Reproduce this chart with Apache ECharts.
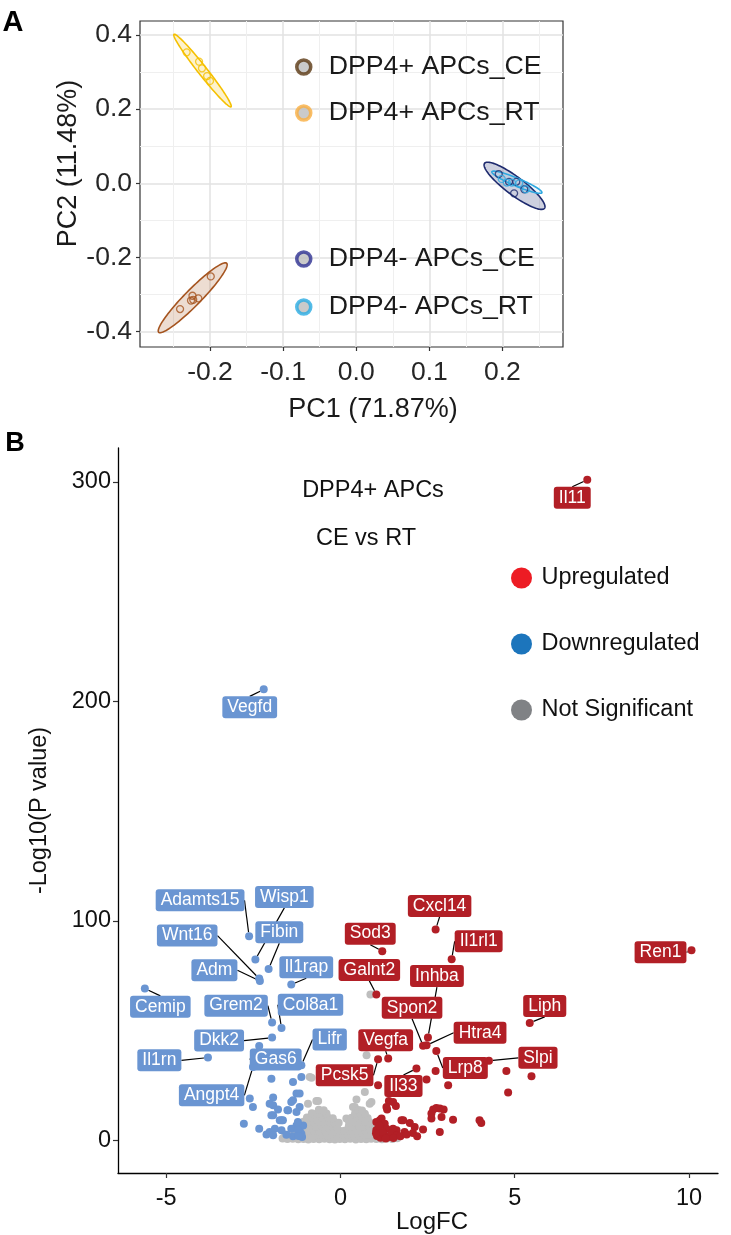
<!DOCTYPE html>
<html>
<head>
<meta charset="utf-8">
<script src="https://cdn.jsdelivr.net/npm/echarts@6/dist/echarts.min.js"></script>
<style>
  html, body { margin: 0; padding: 0; background: #fff; }
  #main { width: 731px; height: 1235px; }
</style>
</head>
<body>
<div id="main"></div>
<script>
// ---------- Panel A : PCA ----------
const pcaGroups = ['DPP4+ APCs_CE', 'DPP4+ APCs_RT', 'DPP4- APCs_CE', 'DPP4- APCs_RT'];
const plusCE_PC1 = [-0.199, -0.224, -0.226, -0.216, -0.241, -0.223];
const plusCE_PC2 = [-0.251, -0.303, -0.316, -0.310, -0.339, -0.314];
const plusRT_PC1 = [-0.232, -0.215, -0.211, -0.204, -0.200];
const plusRT_PC2 = [0.353, 0.328, 0.310, 0.289, 0.276];
const minusCE_PC1 = [0.195, 0.219, 0.216, 0.230, 0.209];
const minusCE_PC2 = [0.025, 0.004, -0.027, -0.016, 0.004];
const minusRT_PC1 = [0.199, 0.206, 0.213, 0.223, 0.232];
const minusRT_PC2 = [0.012, 0.002, 0.002, 0.000, -0.016];

// ellipse: centre, major half-axis vector, minor half-axis vector (data units)
const ellCenterPC1 = [-0.2237, -0.2103, 0.2166, 0.2198];
const ellCenterPC2 = [-0.3086, 0.3040, -0.0067, 0.0030];
const ellMajorPC1 = [0.0465, -0.0390, 0.0410, 0.0342];
const ellMajorPC2 = [0.0930, 0.0976, -0.0606, -0.0283];
const ellMinorPC1 = [0.0078, 0.0048, -0.0074, -0.0021];
const ellMinorPC2 = [-0.0151, 0.0075, -0.0194, -0.0099];

const pcaXTicks = [-0.2, -0.1, 0.0, 0.1, 0.2];
const pcaYTicks = [-0.4, -0.2, 0.0, 0.2, 0.4];
const pcaXMinor = [-0.25, -0.15, -0.05, 0.05, 0.15, 0.25];
const pcaYMinor = [-0.3, -0.1, 0.1, 0.3];

// ---------- Panel B : volcano ----------
const upGenes = ['Il11', 'Ren1', 'Cxcl14', 'Il1rl1', 'Sod3', 'Galnt2', 'Inhba', 'Spon2',
                 'Htra4', 'Liph', 'Lrp8', 'Slpi', 'Il33', 'Vegfa', 'Pcsk5'];
const upGeneFC = [7.08, 10.07, 2.73, 3.19, 1.20, 1.03, 2.51, 2.37, 2.47, 5.43, 2.75, 4.26, 2.18, 1.37, 1.08];
const upGeneP = [301, 86.6, 96.1, 82.5, 86.2, 66.5, 46.8, 43.1, 43.3, 53.5, 40.7, 36.2, 32.7, 37.3, 36.9];

const downGenes = ['Vegfd', 'Adamts15', 'Wisp1', 'Fibin', 'Wnt16', 'Adm', 'Il1rap', 'Cemip',
                   'Grem2', 'Col8a1', 'Dkk2', 'Gas6', 'Lifr', 'Il1rn', 'Angpt4'];
const downGeneFC = [-2.20, -2.62, -2.44, -2.06, -2.33, -2.31, -1.41, -5.61, -1.96, -1.69, -1.96, -2.33, -1.12, -3.80, -2.51];
const downGeneP = [205.5, 93.0, 82.4, 78.1, 73.7, 72.6, 71.0, 69.2, 53.7, 51.2, 46.8, 43.0, 34.2, 37.7, 33.4];

const upFC = [4.76, 5.48, 4.81, 2.73, 2.47, 3.09, 1.08, 1.39, 1.59, 1.34, 2.66, 2.75, 2.85, 2.96, 2.90,
              2.61, 3.23, 3.99, 4.04, 1.75, 1.99, 2.13, 2.37, 2.85, 2.08, 1.84, 1.61, 1.13, 1.51, 1.32,
              1.18, 1.03, 1.27, 1.08, 1.32, 1.51, 1.80, 2.61, 1.03, 1.05, 1.15, 1.25, 1.38, 1.46, 1.20,
              1.62, 1.02, 1.30, 1.52, 1.72, 1.90, 2.20, 1.12];
const upP = [31.6, 29.2, 21.8, 31.6, 27.7, 25.1, 25.1, 17.9, 15.6, 14.0, 14.0, 14.7, 14.5, 14.0, 10.6,
             9.9, 9.4, 9.1, 7.9, 9.1, 7.9, 6.1, 4.9, 3.8, 3.3, 3.8, 4.6, 9.1, 17.5, 15.2,
             9.9, 8.3, 7.6, 5.3, 5.3, 5.3, 9.1, 12.2, 4.6, 2.0, 1.2, 2.6, 1.5, 3.0, 3.8,
             2.2, 3.2, 0.8, 1.0, 1.9, 2.6, 1.8, 6.6];

const downFC = [-1.98, -1.36, -1.12, -1.26, -1.36, -2.60, -2.51, -1.93, -1.93, -1.79, -1.93, -1.69, -1.52,
                -1.41, -1.17, -1.26, -2.77, -2.33, -2.12, -1.88, -1.69, -1.26, -1.17, -1.07, -1.41, -1.36,
                -2.03, -1.93, -1.65, -1.50, -1.17, -1.22, -1.12, -1.22, -2.03, -1.98, -1.74, -1.10, -1.20, -1.55];
const downP = [28.1, 26.6, 28.9, 21.3, 18.2, 19.0, 15.2, 19.5, 16.0, 14.0, 11.4, 9.1, 13.7,
               17.5, 15.2, 12.9, 7.6, 5.3, 2.7, 5.3, 4.6, 6.8, 4.6, 6.8, 5.3, 1.8,
               3.8, 2.3, 9.1, 13.7, 21.3, 8.3, 3.0, 4.6, 16.7, 11.4, 9.1, 1.5, 2.0, 2.5];

const nsFC = [0.86, 0.75, 0.70, 0.46, 0.17, -0.88, -0.69, 0.89, 0.36, -0.93, -0.64, 0.84, 0.41, 0.70, -0.83,
  -1.66, -1.52, -1.37, -1.21, -1.06, -0.92, -0.77, -0.61, -0.46, -0.31, -0.16, -0.02, 0.13, 0.28, 0.44, 0.59, 0.74, 0.88, 1.03, 1.19, 1.34, 1.49, 1.63,
  -1.58, -1.43, -1.28, -1.13, -0.98, -0.83, -0.68, -0.53, -0.38, -0.23, -0.08, 0.07, 0.22, 0.37, 0.52, 0.67, 0.82, 0.97, 1.12, 1.27, 1.42,
  -1.35, -1.20, -1.05, -0.90, -0.75, -0.60, -0.45, -0.30, -0.15, 0.00, 0.12, 0.27, 0.42, 0.57, 0.72, 0.87, 1.00,
  -1.15, -1.00, -0.85, -0.70, -0.55, -0.40, -0.25, -0.10, 0.24, 0.38, 0.53, 0.68, 0.82, 0.95,
  -1.06, -0.92, -0.77, -0.62, -0.47, -0.32, -0.17, -0.05, 0.25, 0.40, 0.55, 0.70, 0.84,
  -0.96, -0.81, -0.66, -0.51, -0.36, -0.22, 0.32, 0.47, 0.62, 0.78,
  -0.82, -0.68, -0.54, -0.40, 0.42, 0.56, 0.70,
  -0.62, -0.48, 0.52, 0.62];
const nsP = [66.4, 38.8, 22.0, 18.6, 9.9, 28.9, 17.9, 17.5, 15.2, 16.7, 17.9, 16.7, 15.2, 11.4, 28.5,
  0.8, 0.6, 0.7, 0.5, 0.6, 0.4, 0.6, 0.5, 0.7, 0.5, 0.4, 0.6, 0.5, 0.7, 0.4, 0.6, 0.5, 0.7, 0.6, 0.5, 0.8, 0.6, 0.9,
  2.5, 2.3, 2.6, 2.4, 2.2, 2.5, 2.4, 2.6, 2.3, 2.5, 2.2, 2.4, 2.6, 2.3, 2.5, 2.4, 2.6, 2.3, 2.5, 2.4, 2.6,
  4.4, 4.2, 4.5, 4.3, 4.4, 4.2, 4.5, 4.3, 4.1, 4.2, 4.4, 4.3, 4.5, 4.2, 4.4, 4.3, 4.5,
  6.4, 6.2, 6.5, 6.3, 6.4, 6.2, 6.3, 6.1, 6.4, 6.3, 6.5, 6.2, 6.4, 6.1,
  8.4, 8.2, 8.5, 8.3, 8.4, 8.2, 8.3, 8.0, 8.2, 8.4, 8.3, 8.5, 8.2,
  10.4, 10.2, 10.5, 10.3, 10.4, 10.1, 10.3, 10.5, 10.4, 10.2,
  12.3, 12.1, 12.4, 12.2, 12.3, 12.4, 12.1,
  13.9, 13.7, 13.8, 13.6];

const volcanoXTicks = [-5, 0, 5, 10];
const volcanoYTicks = [0, 100, 200, 300];

// ---------- styling / layout ----------
const FONT = 'Liberation Sans, Arial, Helvetica, sans-serif';
const pointColors = ['#A5541F', '#F5C000', '#1D2A6E', '#2EA8E0'];
const ellipseFills = ['rgba(165,84,31,0.2)', 'rgba(245,192,0,0.2)', 'rgba(29,42,110,0.22)', 'rgba(46,168,224,0.08)'];
const legendColors = ['#5B3813', '#F9AE40', '#2E3192', '#29ABE2'];
const RED = '#B21F26', BLUE = '#6A95D2', GREY = '#BEBEBE';

// label box offsets (px) from the point, ggrepel style
const labelShift = {
  Il11: [-15, 18], Ren1: [-31, 2], Cxcl14: [4, -23.5], Il1rl1: [27, -18], Sod3: [-12, -17.5],
  Galnt2: [-7, -24.5], Inhba: [9, -61.5], Spon2: [-11, -38], Htra4: [53.5, -12.5], Liph: [15, -17],
  Lrp8: [29, 17], Slpi: [49, -3], Il33: [-13, 17.5], Vegfa: [-2.5, -18.3], Pcsk5: [-33.5, 16],
  Vegfd: [-14, 18], Adamts15: [-49, -36], Wisp1: [29, -62.6], Fibin: [10.7, -36.7], Wnt16: [-72, -43],
  Adm: [-45.5, -10.7], Il1rap: [15, -17.3], Cemip: [15.5, 18.4], Grem2: [-36, -16.8], Col8a1: [29, -23.2],
  Dkk2: [-53, 3], Il1rn: [-48.6, 2.7], Gas6: [16.5, 13.6], Lifr: [28.3, -25.8], Angpt4: [-41.3, 28.3]
};

function zip(xs, ys) {
  return xs.map(function (x, i) { return [x, ys[i]]; });
}
function labeled(names, xs, ys) {
  return names.map(function (n, i) { return { name: n, value: [xs[i], ys[i]], label: { show: true } }; });
}

const pcaX = [plusCE_PC1, plusRT_PC1, minusCE_PC1, minusRT_PC1];
const pcaY = [plusCE_PC2, plusRT_PC2, minusCE_PC2, minusRT_PC2];

const myChart = echarts.init(document.getElementById('main'));

const geneLabel = function (bg) {
  return {
    show: false, position: 'inside', color: '#fff', fontSize: 17.5, fontFamily: FONT,
    backgroundColor: bg, borderRadius: 3, padding: [3, 5, 2, 5], lineHeight: 17,
    formatter: '{b}'
  };
};
const shiftLabel = function (p) {
  const s = labelShift[p.text];
  return s ? { dx: s[0], dy: s[1] } : {};
};

const series = [];
// ellipses
series.push({
  type: 'custom', xAxisIndex: 1, yAxisIndex: 1, z: 1, silent: true,
  data: pcaGroups.map(function (g, i) {
    return [ellCenterPC1[i], ellCenterPC2[i], ellMajorPC1[i], ellMajorPC2[i], ellMinorPC1[i], ellMinorPC2[i]];
  }),
  encode: { x: 0, y: 1 },
  renderItem: function (params, api) {
    const cx = api.value(0), cy = api.value(1);
    const ux = api.value(2), uy = api.value(3), vx = api.value(4), vy = api.value(5);
    const pts = [];
    for (let k = 0; k < 120; k++) {
      const t = k / 120 * 2 * Math.PI;
      pts.push(api.coord([cx + ux * Math.cos(t) + vx * Math.sin(t), cy + uy * Math.cos(t) + vy * Math.sin(t)]));
    }
    const i = params.dataIndex;
    return {
      type: 'polygon', shape: { points: pts },
      style: { fill: ellipseFills[i], stroke: pointColors[i], lineWidth: 1.6 }
    };
  }
});
pcaGroups.forEach(function (g, i) {
  series.push({
    name: g, type: 'scatter', xAxisIndex: 1, yAxisIndex: 1, z: 3,
    symbol: 'circle', symbolSize: 7,
    itemStyle: { color: 'rgba(255,255,255,0)', borderColor: pointColors[i], borderWidth: 1.3 },
    data: zip(pcaX[i], pcaY[i])
  });
});
// volcano
series.push({
  name: 'Not Significant', type: 'scatter', xAxisIndex: 2, yAxisIndex: 2, z: 2,
  symbolSize: 8, itemStyle: { color: GREY, opacity: 1 },
  data: zip(nsFC, nsP)
});
series.push({
  name: 'Downregulated', type: 'scatter', xAxisIndex: 2, yAxisIndex: 2, z: 3,
  symbolSize: 8, itemStyle: { color: BLUE, opacity: 1 },
  label: geneLabel(BLUE),
  labelLine: { show: true, lineStyle: { color: '#000', width: 1.2 } },
  labelLayout: shiftLabel,
  data: zip(downFC, downP).concat(labeled(downGenes, downGeneFC, downGeneP))
});
series.push({
  name: 'Upregulated', type: 'scatter', xAxisIndex: 2, yAxisIndex: 2, z: 3,
  symbolSize: 8, itemStyle: { color: RED, opacity: 1 },
  label: geneLabel(RED),
  labelLine: { show: true, lineStyle: { color: '#000', width: 1.2 } },
  labelLayout: shiftLabel,
  data: zip(upFC, upP).concat(labeled(upGenes, upGeneFC, upGeneP))
});

const hidden = { show: false };
const noLine = { show: false, onZero: false };
const option = {
  animation: false,
  backgroundColor: '#fff',
  textStyle: { fontFamily: FONT },
  grid: [
    { left: 140, top: 21, width: 423, height: 326, show: true, borderColor: '#333', borderWidth: 1.2,
      backgroundColor: 'rgba(0,0,0,0)', outerBoundsMode: 'none', containLabel: false },
    { left: 118, top: 448, width: 600, height: 725, outerBoundsMode: 'none', containLabel: false }
  ],
  xAxis: [
    { // minor grid A
      type: 'value', gridIndex: 0, position: 'bottom', min: -0.2958, max: 0.2829,
      axisLine: noLine, axisLabel: hidden, axisTick: { show: false, customValues: pcaXMinor },
      splitLine: { show: true, lineStyle: { color: '#EFEFEF', width: 1 } }
    },
    {
      type: 'value', gridIndex: 0, position: 'bottom', min: -0.2958, max: 0.2829,
      axisLine: noLine,
      axisTick: { show: true, length: 4, customValues: pcaXTicks, lineStyle: { color: '#333', width: 1.2 } },
      axisLabel: { customValues: pcaXTicks, fontSize: 26.5, color: '#262626', margin: 12, fontFamily: FONT,
        formatter: function (v) { return v.toFixed(1); } },
      splitLine: { show: true, lineStyle: { color: '#E2E2E2', width: 1.5 } }
    },
    {
      type: 'value', gridIndex: 1, position: 'bottom', min: -6.38, max: 10.83,
      axisLine: { show: true, onZero: false, lineStyle: { color: '#000', width: 1.3 } },
      axisTick: { show: true, length: 5, customValues: volcanoXTicks, lineStyle: { color: '#333', width: 1.2 } },
      axisLabel: { customValues: volcanoXTicks, fontSize: 23.5, color: '#111', margin: 14, fontFamily: FONT },
      splitLine: { show: false }
    }
  ],
  yAxis: [
    {
      type: 'value', gridIndex: 0, position: 'left', min: -0.4412, max: 0.4375,
      axisLine: noLine, axisLabel: hidden, axisTick: { show: false, customValues: pcaYMinor },
      splitLine: { show: true, lineStyle: { color: '#EFEFEF', width: 1 } }
    },
    {
      type: 'value', gridIndex: 0, position: 'left', min: -0.4412, max: 0.4375,
      axisLine: noLine,
      axisTick: { show: true, length: 4, customValues: pcaYTicks, lineStyle: { color: '#333', width: 1.2 } },
      axisLabel: { customValues: pcaYTicks, fontSize: 26.5, color: '#262626', margin: 8, fontFamily: FONT,
        formatter: function (v) { return v.toFixed(1); } },
      splitLine: { show: true, lineStyle: { color: '#E2E2E2', width: 1.5 } }
    },
    {
      type: 'value', gridIndex: 1, position: 'left', min: -14.9, max: 315.5,
      name: '-Log10(P value)', nameLocation: 'middle', nameGap: 66,
      nameTextStyle: { fontSize: 23.5, color: '#111', fontFamily: FONT },
      axisLine: { show: true, onZero: false, lineStyle: { color: '#000', width: 1.3 } },
      axisTick: { show: true, length: 5, customValues: volcanoYTicks, lineStyle: { color: '#333', width: 1.2 } },
      axisLabel: { customValues: volcanoYTicks, fontSize: 23.5, color: '#111', margin: 7, fontFamily: FONT },
      splitLine: { show: false }
    }
  ],
  legend: [
    {
      orient: 'vertical', left: 290, top: 47, itemWidth: 40, itemHeight: 14, itemGap: 16,
      icon: 'circle', symbolKeepAspect: true, selectedMode: false,
      textStyle: { fontSize: 26.7, color: '#1a1a1a', lineHeight: 30, fontFamily: FONT },
      data: [0, 1].map(function (i) {
        return { name: pcaGroups[i], itemStyle: { color: '#BDBDBD', borderColor: legendColors[i], borderWidth: 3.5 } };
      })
    },
    {
      orient: 'vertical', left: 290, top: 239, itemWidth: 40, itemHeight: 14, itemGap: 18,
      icon: 'circle', symbolKeepAspect: true, selectedMode: false,
      textStyle: { fontSize: 26.7, color: '#1a1a1a', lineHeight: 30, fontFamily: FONT },
      data: [2, 3].map(function (i) {
        return { name: pcaGroups[i], itemStyle: { color: '#BDBDBD', borderColor: legendColors[i], borderWidth: 3.5 } };
      })
    },
    {
      orient: 'vertical', left: 506, top: 560, itemWidth: 30, itemHeight: 21, itemGap: 40,
      icon: 'circle', symbolKeepAspect: true, selectedMode: false,
      textStyle: { fontSize: 23.5, color: '#111', lineHeight: 26, fontFamily: FONT },
      data: [
        { name: 'Upregulated', itemStyle: { color: '#ED1C24' } },
        { name: 'Downregulated', itemStyle: { color: '#1C75BC' } },
        { name: 'Not Significant', itemStyle: { color: '#808285' } }
      ]
    }
  ],
  graphic: [
    { type: 'text', x: 13, y: 23, style: { text: 'A', font: 'bold 29px ' + FONT, fill: '#000', align: 'center', verticalAlign: 'middle' } },
    { type: 'text', x: 15, y: 444, style: { text: 'B', font: 'bold 27px ' + FONT, fill: '#000', align: 'center', verticalAlign: 'middle' } },
    { type: 'text', x: 373, y: 410, style: { text: 'PC1 (71.87%)', font: '27px ' + FONT, fill: '#1a1a1a', align: 'center', verticalAlign: 'middle' } },
    { type: 'text', x: 69, y: 163.5, rotation: Math.PI / 2, style: { text: 'PC2 (11.48%)', font: '27px ' + FONT, fill: '#1a1a1a', align: 'center', verticalAlign: 'middle' } },
    { type: 'text', x: 432, y: 1222, style: { text: 'LogFC', font: '24px ' + FONT, fill: '#111', align: 'center', verticalAlign: 'middle' } },
    { type: 'text', x: 373, y: 491, style: { text: 'DPP4+ APCs', font: '23.5px ' + FONT, fill: '#111', align: 'center', verticalAlign: 'middle' } },
    { type: 'text', x: 366, y: 539, style: { text: 'CE vs RT', font: '23.5px ' + FONT, fill: '#111', align: 'center', verticalAlign: 'middle' } }
  ],
  series: series
};

myChart.setOption(option);
</script>
</body>
</html>
